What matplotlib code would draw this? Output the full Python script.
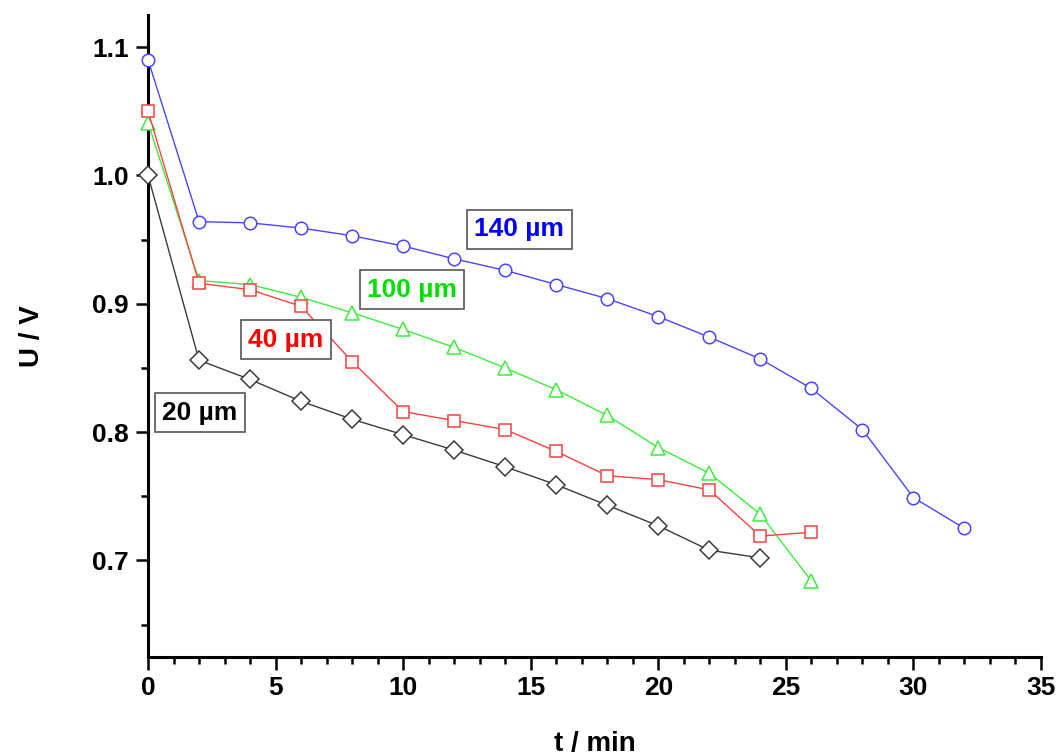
import matplotlib
matplotlib.use("Agg")
from matplotlib import pyplot as plt
from matplotlib.ticker import MultipleLocator

plt.rcParams["font.family"] = ["Liberation Sans", "DejaVu Sans"]
plt.rcParams["font.weight"] = "bold"

# time in minutes
t_140 = [0, 2, 4, 6, 8, 10, 12, 14, 16, 18, 20, 22, 24, 26, 28, 30, 32]
t_100 = [0, 2, 4, 6, 8, 10, 12, 14, 16, 18, 20, 22, 24, 26]
t_40 = [0, 2, 4, 6, 8, 10, 12, 14, 16, 18, 20, 22, 24, 26]
t_20 = [0, 2, 4, 6, 8, 10, 12, 14, 16, 18, 20, 22, 24]

# cell voltage in V
u_140 = [1.090, 0.964, 0.963, 0.959, 0.953, 0.945, 0.935, 0.926, 0.915,
         0.904, 0.890, 0.874, 0.857, 0.834, 0.802, 0.749, 0.725]
u_100 = [1.041, 0.918, 0.915, 0.905, 0.893, 0.880, 0.866, 0.850, 0.833,
         0.813, 0.788, 0.768, 0.736, 0.684]
u_40 = [1.050, 0.916, 0.911, 0.898, 0.855, 0.816, 0.809, 0.802, 0.785,
        0.766, 0.763, 0.755, 0.719, 0.722]
u_20 = [1.000, 0.856, 0.841, 0.824, 0.810, 0.798, 0.786, 0.773, 0.759,
        0.743, 0.727, 0.708, 0.702]

labels = ["140 µm", "100 µm", "40 µm", "20 µm"]
label_pos = [(14.55, 0.958), (10.35, 0.911), (5.4, 0.872), (2.02, 0.815)]

fig = plt.figure(figsize=(10.62, 7.56), dpi=100)
ax = fig.add_axes([0.1394, 0.1313, 0.8408, 0.8489])

series = [
    (t_140, u_140, "o", "#4646ff", "#0000ff", 9),
    (t_100, u_100, "^", "#3cee3c", "#00e000", 10.5),
    (t_40, u_40, "s", "#ff4040", "#ff0000", 8.5),
    (t_20, u_20, "D", "#3a3a3a", "#000000", 9),
]

for (t, u, m, lc, tc, ms), lab, (lx, ly) in zip(series, labels, label_pos):
    ax.plot(t, u, marker=m, color=lc, lw=1.0, ms=ms, mfc="white",
            mec=lc, mew=1.1, clip_on=False, zorder=3)
    ax.text(lx, ly, lab, color=tc, fontsize=19, fontweight="bold",
            ha="center", va="center", zorder=4,
            bbox=dict(boxstyle="square,pad=0.28", fc="white", ec="#555555", lw=1.2))

ax.set_xlim(0, 35)
ax.set_ylim(0.625, 1.125)
ax.xaxis.set_major_locator(MultipleLocator(5))
ax.xaxis.set_minor_locator(MultipleLocator(1))
ax.yaxis.set_major_locator(MultipleLocator(0.1))
ax.yaxis.set_minor_locator(MultipleLocator(0.05))
ax.yaxis.set_major_formatter(plt.FuncFormatter(lambda v, p: f"{v:.1f}"))

for s in ["top", "right"]:
    ax.spines[s].set_visible(False)
for s in ["left", "bottom"]:
    ax.spines[s].set_linewidth(2.2)
    ax.spines[s].set_zorder(2)

ax.tick_params(which="major", direction="out", length=9, width=1.8,
               labelsize=19, pad=5)
ax.tick_params(which="minor", direction="out", length=5, width=1.8)

ax.set_xlabel("t / min", fontsize=20, fontweight="bold", labelpad=22)
ax.set_ylabel("U / V", fontsize=20, fontweight="bold", labelpad=34)

fig.savefig("out.png", dpi=100)
